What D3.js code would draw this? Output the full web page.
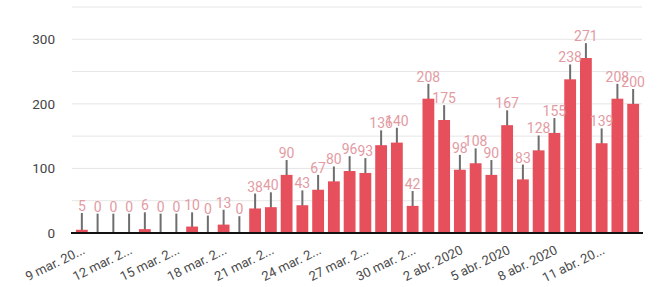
<!DOCTYPE html>
<html>
<head>
<meta charset="utf-8">
<script src="https://cdn.jsdelivr.net/npm/d3@7"></script>
<style>
  body { margin: 0; background: #fff; }
  text { font-family: Roboto, "Noto Sans", sans-serif; }
</style>
</head>
<body>
<script>
// daily values, 9 mar 2020 .. 13 abr 2020
const days = ["9 mar.","10 mar.","11 mar.","12 mar.","13 mar.","14 mar.","15 mar.","16 mar.","17 mar.",
  "18 mar.","19 mar.","20 mar.","21 mar.","22 mar.","23 mar.","24 mar.","25 mar.","26 mar.",
  "27 mar.","28 mar.","29 mar.","30 mar.","31 mar.","1 abr.","2 abr.","3 abr.","4 abr.","5 abr.",
  "6 abr.","7 abr.","8 abr.","9 abr.","10 abr.","11 abr.","12 abr.","13 abr."];
const values = [5,0,0,0,6,0,0,10,0,13,0,38,40,90,43,67,80,96,93,136,140,42,208,175,98,108,90,167,83,128,155,238,271,139,208,200];
const errs = [26,30,30,30,26,30,30,22,27,23,26,23,23,23,23,23,23,23,23,23,23,23,23,23,23,23,23,23,23,23,23,23,23,23,23,23];

const tickIdx = [0,3,6,9,12,15,18,21,24,27,30,33];
const tickLabels = ["9 mar. 20...","12 mar. 2...","15 mar. 2...","18 mar. 2...","21 mar. 2...","24 mar. 2...",
  "27 mar. 2...","30 mar. 2...","2 abr. 2020","5 abr. 2020","8 abr. 2020","11 abr. 20..."];
const yTicks = [0,100,200,300];
const yGrid = [50,100,150,200,250,300,350];

const W = 657, H = 287;
const svg = d3.select("body").append("svg").attr("width", W).attr("height", H);

const x = d3.scaleBand().domain(d3.range(values.length)).range([72, 643])
  .paddingInner(0.25).paddingOuter(0.25);
const y = d3.scaleLinear().domain([0, 350]).range([233, 7]);

// grid
svg.selectAll(".grid").data(yGrid).enter().append("line")
  .attr("x1", 72).attr("x2", 642)
  .attr("y1", d => y(d)).attr("y2", d => y(d))
  .attr("stroke", "#e6e6e6").attr("stroke-width", 1);

svg.selectAll(".ylab").data(yTicks).enter().append("text")
  .attr("x", 55).attr("y", d => y(d) + 5)
  .attr("text-anchor", "end").attr("font-size", 13.5).attr("fill", "#444")
  .text(d => d);

// whiskers behind bars
svg.selectAll(".err").data(values).enter().append("line")
  .attr("x1", (d, i) => x(i) + x.bandwidth() / 2)
  .attr("x2", (d, i) => x(i) + x.bandwidth() / 2)
  .attr("y1", (d, i) => y(Math.max(0, d - errs[i])))
  .attr("y2", (d, i) => y(d + errs[i]))
  .attr("stroke", "#6e6e6e").attr("stroke-width", 2);

svg.selectAll(".bar").data(values).enter().append("rect")
  .attr("x", (d, i) => x(i))
  .attr("width", x.bandwidth())
  .attr("y", d => y(d))
  .attr("height", d => y(0) - y(d))
  .attr("fill", "#e6505c");

svg.selectAll(".vlab").data(values).enter().append("text")
  .attr("x", (d, i) => x(i) + x.bandwidth() / 2)
  .attr("y", (d, i) => y(d + errs[i]) - 2)
  .attr("text-anchor", "middle").attr("font-size", 14).attr("fill", "#e39ba3")
  .text(d => d);

// baseline
svg.append("line").attr("x1", 71).attr("x2", 643)
  .attr("y1", y(0)).attr("y2", y(0))
  .attr("stroke", "#111").attr("stroke-width", 2);

svg.selectAll(".xlab").data(tickIdx).enter().append("text")
  .attr("transform", d => `translate(${x(d) + x.bandwidth() / 2 + 4},${y(0) + 20}) rotate(-26)`)
  .attr("text-anchor", "end").attr("font-size", 13).attr("fill", "#4a4a4a")
  .text((d, i) => tickLabels[i]);
</script>
</body>
</html>
